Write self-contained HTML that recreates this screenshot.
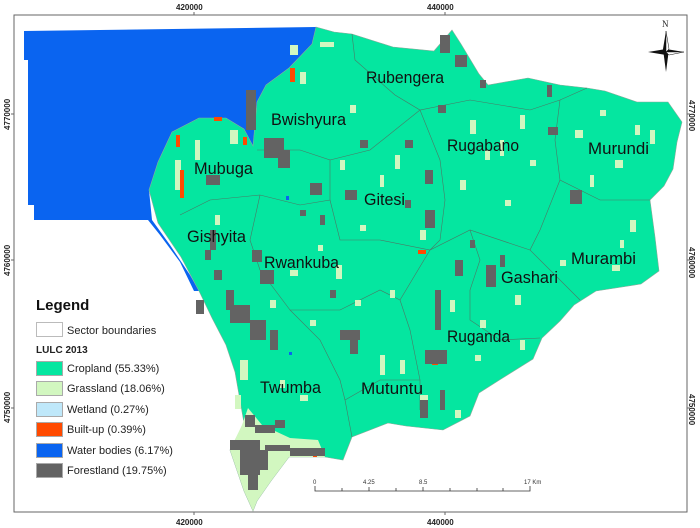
<!DOCTYPE html>
<html><head><meta charset="utf-8"><style>
html,body{margin:0;padding:0;background:#fff}
svg{display:block}
.lb{font-family:"Liberation Sans Narrow","Liberation Sans",sans-serif;font-size:17px;fill:#111}
.tk{font-family:"Liberation Sans",sans-serif;font-size:8px;fill:#222;font-weight:bold}
.lg{font-family:"Liberation Sans Narrow","Liberation Sans",sans-serif;font-size:11px;fill:#222}
</style></head><body>
<svg width="700" height="528" viewBox="0 0 700 528">
<rect x="14" y="15" width="673" height="497" fill="#fff" stroke="#666" stroke-width="1"/>
<polygon fill="#0a64f0" points="24,31 316,27 312,44 289,68 266,85 257,102 253,146 244,129 226,118 199,118 172,132 158,162 149,190 152,220 170,245 190,275 199,291 194,291 180,262 160,235 148,220 34,220 34,205 28,205 28,60 24,60"/>
<polygon fill="#05e6a0" stroke="#8a9" stroke-width="0.6" points="316,27 334,32 352,34 393,47 434,51 452,30 461,44 479,74 488,85 528,78 560,85 587,88 605,91 637,102 668,102 682,122 677,142 673,169 664,186 650,200 655,237 659,271 641,284 596,291 574,305 560,321 542,338 533,359 501,379 479,393 470,416 443,430 406,426 388,423 352,437 343,460 325,457 289,457 271,481 257,501 253,511 244,491 230,450 244,423 235,372 226,345 212,318 199,291 181,257 158,223 149,190 158,162 172,132 199,118 226,118 244,129 253,146 257,102 266,85 289,68 312,44"/>
<polygon fill="#d2f7c0" points="230,450 242,425 248,408 262,425 290,438 318,440 325,457 289,457 271,481 257,501 253,511 244,491"/>
<g fill="none" stroke="#4a7a66" stroke-width="0.6">
<path d="M352,34 L355,60 L395,95 L420,110 L470,100 L530,110 L560,100 L587,88"/>
<path d="M257,150 L300,150 L330,160 L330,200 L300,205 L260,195 L210,200 L180,215"/>
<path d="M330,160 L370,150 L420,110"/>
<path d="M420,110 L440,160 L445,200 L440,240 L430,250"/>
<path d="M560,100 L555,140 L560,180 L600,200 L650,200"/>
<path d="M560,180 L540,230 L530,250 L550,270 L580,300"/>
<path d="M330,200 L340,240 L380,240 L430,250 L470,230 L530,250"/>
<path d="M260,195 L250,240 L260,270 L290,310 L340,310 L380,290 L400,300"/>
<path d="M430,250 L400,300 L410,330 L420,380 L420,410"/>
<path d="M470,230 L480,260 L470,290 L470,320 L500,340 L540,338"/>
<path d="M290,310 L320,340 L340,380 L345,400 L352,437"/>
<path d="M345,400 L380,380 L420,380"/>
</g>
<g fill="#d2f7c0">
<rect x="290" y="45" width="8" height="10"/><rect x="300" y="72" width="6" height="12"/><rect x="320" y="42" width="14" height="5"/>
<rect x="470" y="120" width="6" height="14"/><rect x="485" y="150" width="5" height="10"/><rect x="520" y="115" width="5" height="14"/>
<rect x="575" y="130" width="8" height="8"/><rect x="615" y="160" width="8" height="8"/><rect x="635" y="125" width="5" height="10"/>
<rect x="630" y="220" width="6" height="12"/><rect x="612" y="265" width="8" height="6"/><rect x="560" y="260" width="6" height="6"/>
<rect x="350" y="105" width="6" height="8"/><rect x="340" y="160" width="5" height="10"/><rect x="395" y="155" width="5" height="14"/>
<rect x="420" y="230" width="6" height="10"/><rect x="336" y="265" width="6" height="14"/><rect x="290" y="270" width="8" height="6"/>
<rect x="380" y="355" width="5" height="20"/><rect x="400" y="360" width="5" height="14"/><rect x="420" y="395" width="8" height="10"/>
<rect x="270" y="300" width="6" height="8"/><rect x="310" y="320" width="6" height="6"/><rect x="515" y="295" width="6" height="10"/>
<rect x="230" y="130" width="8" height="14"/><rect x="175" y="160" width="6" height="30"/><rect x="195" y="140" width="5" height="20"/>
<rect x="240" y="360" width="8" height="20"/><rect x="450" y="300" width="5" height="12"/><rect x="480" y="320" width="6" height="8"/>
<rect x="500" y="140" width="4" height="16"/><rect x="530" y="160" width="6" height="6"/><rect x="600" y="110" width="6" height="6"/>
<rect x="650" y="130" width="5" height="14"/><rect x="590" y="175" width="4" height="12"/><rect x="620" y="240" width="4" height="8"/>
<rect x="380" y="175" width="4" height="12"/><rect x="360" y="225" width="6" height="6"/><rect x="318" y="245" width="5" height="6"/>
<rect x="460" y="180" width="6" height="10"/><rect x="505" y="200" width="6" height="6"/><rect x="390" y="290" width="5" height="8"/>
<rect x="355" y="300" width="6" height="6"/><rect x="280" y="380" width="5" height="8"/><rect x="300" y="395" width="8" height="6"/>
<rect x="455" y="410" width="6" height="8"/><rect x="475" y="355" width="6" height="6"/><rect x="520" y="340" width="5" height="10"/>
<rect x="235" y="395" width="6" height="14"/><rect x="215" y="215" width="5" height="10"/>
</g>
<g fill="#ff4a00">
<rect x="176" y="135" width="4" height="12"/><rect x="180" y="170" width="4" height="28"/><rect x="290" y="68" width="5" height="14"/>
<rect x="214" y="117" width="8" height="4"/><rect x="243" y="137" width="4" height="8"/><rect x="418" y="250" width="8" height="4"/>
<rect x="432" y="355" width="6" height="10"/><rect x="313" y="453" width="4" height="4"/>
</g>
<g fill="#636363">
<rect x="246" y="90" width="10" height="40"/><rect x="264" y="138" width="20" height="20"/><rect x="278" y="150" width="12" height="18"/>
<rect x="206" y="175" width="14" height="10"/><rect x="310" y="183" width="12" height="12"/><rect x="345" y="190" width="12" height="10"/>
<rect x="440" y="35" width="10" height="18"/><rect x="455" y="55" width="12" height="12"/><rect x="438" y="105" width="8" height="8"/>
<rect x="425" y="170" width="8" height="14"/><rect x="425" y="210" width="10" height="18"/><rect x="470" y="240" width="5" height="8"/>
<rect x="455" y="260" width="8" height="16"/><rect x="486" y="265" width="10" height="22"/><rect x="500" y="255" width="5" height="12"/>
<rect x="435" y="290" width="6" height="40"/><rect x="425" y="350" width="22" height="14"/><rect x="420" y="400" width="8" height="18"/>
<rect x="440" y="390" width="5" height="20"/><rect x="547" y="85" width="5" height="12"/><rect x="548" y="127" width="10" height="8"/>
<rect x="570" y="190" width="12" height="14"/><rect x="252" y="250" width="10" height="12"/><rect x="260" y="270" width="14" height="14"/>
<rect x="226" y="290" width="8" height="20"/><rect x="230" y="305" width="20" height="18"/><rect x="250" y="320" width="16" height="20"/>
<rect x="270" y="330" width="8" height="20"/><rect x="340" y="330" width="20" height="10"/><rect x="350" y="340" width="8" height="14"/>
<rect x="196" y="300" width="8" height="14"/><rect x="214" y="270" width="8" height="10"/><rect x="330" y="290" width="6" height="8"/>
<rect x="360" y="140" width="8" height="8"/><rect x="405" y="140" width="8" height="8"/><rect x="210" y="230" width="6" height="20"/>
<rect x="205" y="250" width="6" height="10"/><rect x="405" y="200" width="6" height="8"/><rect x="480" y="80" width="6" height="8"/>
<rect x="320" y="215" width="5" height="10"/><rect x="300" y="210" width="6" height="6"/>
<rect x="245" y="415" width="10" height="12"/><rect x="255" y="425" width="20" height="8"/><rect x="240" y="440" width="20" height="35"/>
<rect x="230" y="440" width="12" height="10"/><rect x="260" y="450" width="8" height="20"/><rect x="265" y="445" width="25" height="6"/>
<rect x="290" y="448" width="35" height="8"/><rect x="248" y="470" width="10" height="20"/><rect x="275" y="420" width="10" height="8"/>
</g>
<rect x="286" y="196" width="3" height="4" fill="#0a64f0"/><rect x="289" y="352" width="3" height="3" fill="#0a64f0"/>
<g class="lb">
<text x="366" y="83" textLength="78" lengthAdjust="spacingAndGlyphs">Rubengera</text>
<text x="271" y="125" textLength="75" lengthAdjust="spacingAndGlyphs">Bwishyura</text>
<text x="447" y="151" textLength="72" lengthAdjust="spacingAndGlyphs">Rugabano</text>
<text x="588" y="154" textLength="61" lengthAdjust="spacingAndGlyphs">Murundi</text>
<text x="194" y="174" textLength="59" lengthAdjust="spacingAndGlyphs">Mubuga</text>
<text x="364" y="205" textLength="41" lengthAdjust="spacingAndGlyphs">Gitesi</text>
<text x="187" y="242" textLength="59" lengthAdjust="spacingAndGlyphs">Gishyita</text>
<text x="264" y="268" textLength="75" lengthAdjust="spacingAndGlyphs">Rwankuba</text>
<text x="571" y="264" textLength="65" lengthAdjust="spacingAndGlyphs">Murambi</text>
<text x="501" y="283" textLength="57" lengthAdjust="spacingAndGlyphs">Gashari</text>
<text x="447" y="342" textLength="63" lengthAdjust="spacingAndGlyphs">Ruganda</text>
<text x="260" y="393" textLength="61" lengthAdjust="spacingAndGlyphs">Twumba</text>
<text x="361" y="394" textLength="62" lengthAdjust="spacingAndGlyphs">Mutuntu</text>
</g>
<text x="36" y="310" font-family="Liberation Sans Narrow,Liberation Sans,sans-serif" font-size="15" font-weight="bold" fill="#111">Legend</text>
<rect x="36.5" y="322.5" width="26" height="14" fill="#fff" stroke="#bbb"/><text class="lg" x="67" y="334">Sector boundaries</text>
<text x="36" y="353" font-family="Liberation Sans Narrow,Liberation Sans,sans-serif" font-size="10" font-weight="bold" fill="#222">LULC 2013</text>
<rect x="36.5" y="361.5" width="26" height="14" fill="#05e6a0" stroke="#aaa"/><text class="lg" x="67" y="372">Cropland (55.33%)</text>
<rect x="36.5" y="381.5" width="26" height="14" fill="#d2f7c0" stroke="#aaa"/><text class="lg" x="67" y="392">Grassland (18.06%)</text>
<rect x="36.5" y="402.5" width="26" height="14" fill="#bfe8fa" stroke="#aaa"/><text class="lg" x="67" y="413">Wetland (0.27%)</text>
<rect x="36.5" y="422.5" width="26" height="14" fill="#ff4a00" stroke="#aaa"/><text class="lg" x="67" y="433">Built-up (0.39%)</text>
<rect x="36.5" y="443.5" width="26" height="14" fill="#0a64f0" stroke="#aaa"/><text class="lg" x="67" y="454">Water bodies (6.17%)</text>
<rect x="36.5" y="463.5" width="26" height="14" fill="#636363" stroke="#aaa"/><text class="lg" x="67" y="474">Forestland (19.75%)</text>
<g stroke="#333" stroke-width="0.8" fill="none">
<path d="M315,486 V491 H530 V486"/><path d="M342,488 V491 M369,487 V491 M396,488 V491 M423,487 V491 M450,488 V491 M477,488 V491 M503,488 V491"/>
</g>
<g font-family="Liberation Sans,sans-serif" font-size="6" fill="#333">
<text x="313" y="484">0</text><text x="363" y="484">4.25</text><text x="419" y="484">8.5</text><text x="524" y="484">17 Km</text>
</g>
<g class="tk">
<text x="176" y="10">420000</text><text x="427" y="10">440000</text>
<text x="176" y="525">420000</text><text x="427" y="525">440000</text>
<text transform="translate(10,130) rotate(-90)">4770000</text><text transform="translate(10,276) rotate(-90)">4760000</text><text transform="translate(10,423) rotate(-90)">4750000</text>
<text transform="translate(689,100) rotate(90)">4770000</text><text transform="translate(689,247) rotate(90)">4760000</text><text transform="translate(689,394) rotate(90)">4750000</text>
</g>
<g stroke="#666" stroke-width="1"><path d="M194,12 V15 M445,12 V15 M194,512 V515 M445,512 V515 M11,114 H14 M11,260 H14 M11,408 H14 M687,114 H690 M687,260 H690 M687,408 H690"/></g>
<text x="662" y="27" font-family="Liberation Serif,serif" font-size="9" fill="#222">N</text>
<polygon points="666,31 669,49 666,72 663,49" fill="#111"/>
<polygon points="648,52 666,49 684,52 666,55" fill="#111"/>
<polygon points="666,31 669,49 666,52" fill="#fff" stroke="#111" stroke-width="0.5"/>
<polygon points="684,52 666,52 669,55" fill="#fff" stroke="#111" stroke-width="0.5"/>
</svg>
</body></html>
